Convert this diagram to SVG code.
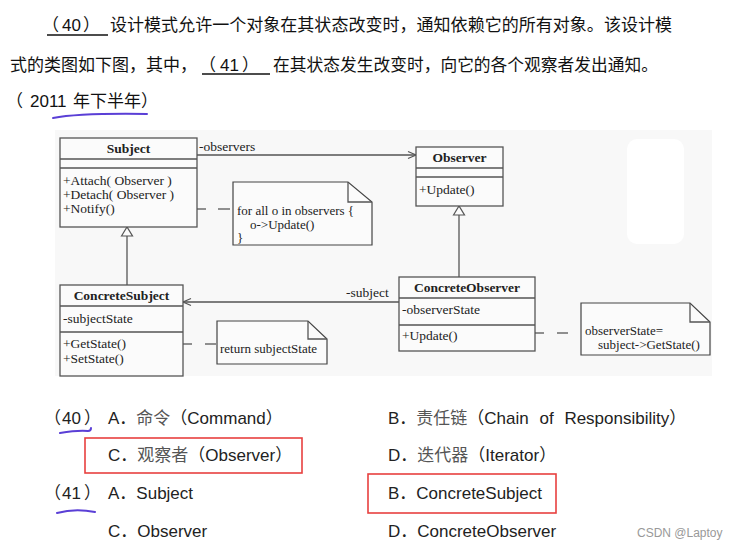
<svg xmlns="http://www.w3.org/2000/svg" width="730" height="549" viewBox="0 0 730 549">
<style>
.q{font-family:"Noto Sans CJK SC","Liberation Sans",sans-serif;font-size:17px;fill:#111}
.qa{font-family:"Liberation Sans","Noto Sans CJK SC",sans-serif;font-size:17px;fill:#111}
.t{font-family:"Liberation Serif",serif;font-size:13.5px;fill:#222}
.n{font-size:13px}
.b{font-weight:bold;text-anchor:middle}
.box{fill:#fbfbfb;stroke:#555;stroke-width:1.3}
.ln{stroke:#555;stroke-width:1.3;fill:none}
.note{fill:#fbfbfb;stroke:#444;stroke-width:1.2}
.ans{font-family:"Liberation Sans","Noto Sans CJK SC",sans-serif;font-size:17px;fill:#222}
.cn{fill:#555}
.red{fill:none;stroke:#e8403f;stroke-width:1.6}
.pur{fill:none;stroke:#5a3fd6;stroke-width:2;stroke-linecap:round}
</style>
<defs>
<marker id="open" markerWidth="10" markerHeight="10" refX="9" refY="5" orient="auto" markerUnits="userSpaceOnUse">
<path d="M1,1.5 L9,5 L1,8.5" fill="none" stroke="#555" stroke-width="1.2"/>
</marker>
<marker id="tri" markerWidth="14" markerHeight="14" refX="12" refY="7" orient="auto" markerUnits="userSpaceOnUse">
<path d="M3,1.5 L12,7 L3,12.5 Z" fill="#fbfbfb" stroke="#555" stroke-width="1.2"/>
</marker>
</defs>
<rect width="730" height="549" fill="#ffffff"/>

<g id="question">
<line x1="47" y1="35" x2="108" y2="35" stroke="#111" stroke-width="1.3"/>
<text class="q" y="31"><tspan x="42">（</tspan><tspan class="qa" x="62">40</tspan><tspan x="83">）</tspan></text>
<text class="q" x="110" y="31" textLength="562" lengthAdjust="spacingAndGlyphs">设计模式允许一个对象在其状态改变时，通知依赖它的所有对象。该设计模</text>
<text class="q" x="10" y="71" textLength="187" lengthAdjust="spacingAndGlyphs">式的类图如下图，其中，</text>
<line x1="202" y1="74" x2="270" y2="74" stroke="#111" stroke-width="1.3"/>
<text class="q" y="71"><tspan x="199">（</tspan><tspan class="qa" x="220">41</tspan><tspan x="242">）</tspan></text>
<text class="q" x="273" y="71" textLength="385" lengthAdjust="spacingAndGlyphs">在其状态发生改变时，向它的各个观察者发出通知。</text>
<text class="q" y="107"><tspan x="6">（</tspan><tspan class="qa" x="30">2011 </tspan><tspan x="73">年下半年）</tspan></text>
<path class="pur" d="M53,118 Q80,113 147,114"/>
</g>

<rect x="55" y="130" width="657" height="246" fill="#f8f8f8"/>
<rect x="627" y="139" width="57" height="105" rx="10" fill="#ffffff"/>

<g id="connectors">
<line class="ln" x1="197" y1="155" x2="416" y2="155" marker-end="url(#open)"/>
<text class="t" x="199" y="151">-observers</text>
<line class="ln" x1="127" y1="285" x2="127" y2="227" marker-end="url(#tri)"/>
<line class="ln" x1="459" y1="277" x2="459" y2="206" marker-end="url(#tri)"/>
<line class="ln" x1="399" y1="302" x2="183" y2="302" marker-end="url(#open)"/>
<text class="t" x="346" y="297">-subject</text>
<g class="ln">
<circle cx="192" cy="209" r="2.5"/>
<line x1="194.5" y1="209" x2="206" y2="209"/>
<line x1="218" y1="209" x2="230" y2="209"/>
<circle cx="179" cy="344" r="2.5"/>
<line x1="181.5" y1="344" x2="192" y2="344"/>
<line x1="205" y1="344" x2="216" y2="344"/>
<circle cx="532" cy="333" r="2.5"/>
<line x1="534.5" y1="333" x2="544" y2="333"/>
<line x1="557" y1="333" x2="568" y2="333"/>
</g>
</g>

<g id="Subject">
<rect class="box" x="60" y="138" width="137" height="89"/>
<line class="ln" x1="60" y1="159" x2="197" y2="159"/>
<line class="ln" x1="60" y1="168" x2="197" y2="168"/>
<text class="t b" x="128.5" y="153">Subject</text>
<text class="t" x="63" y="185">+Attach( Observer )</text>
<text class="t" x="63" y="199">+Detach( Observer )</text>
<text class="t" x="63" y="213">+Notify()</text>
</g>

<g id="Observer">
<rect class="box" x="416" y="147" width="87" height="59"/>
<line class="ln" x1="416" y1="168" x2="503" y2="168"/>
<line class="ln" x1="416" y1="177" x2="503" y2="177"/>
<text class="t b" x="459.5" y="162">Observer</text>
<text class="t" x="419" y="194">+Update()</text>
</g>

<g id="ConcreteSubject">
<rect class="box" x="60" y="285" width="123" height="91"/>
<line class="ln" x1="60" y1="306" x2="183" y2="306"/>
<line class="ln" x1="60" y1="332" x2="183" y2="332"/>
<text class="t b" x="121.5" y="300">ConcreteSubject</text>
<text class="t" x="63" y="323">-subjectState</text>
<text class="t" x="63" y="348">+GetState()</text>
<text class="t" x="63" y="363">+SetState()</text>
</g>

<g id="ConcreteObserver">
<rect class="box" x="399" y="277" width="136" height="74"/>
<line class="ln" x1="399" y1="298" x2="535" y2="298"/>
<line class="ln" x1="399" y1="325" x2="535" y2="325"/>
<text class="t b" x="467" y="292">ConcreteObserver</text>
<text class="t" x="402" y="314">-observerState</text>
<text class="t" x="402" y="340">+Update()</text>
</g>

<g id="note1">
<path class="note" d="M233,182 H348 L372,202 V245 H233 Z"/>
<path class="ln" d="M348,182 V202 H372"/>
<text class="t n" x="237" y="215">for all o in observers {</text>
<text class="t n" x="250" y="228.5">o-&gt;Update()</text>
<text class="t n" x="237" y="241.5">}</text>
</g>

<g id="note2">
<path class="note" d="M217,321 H308 L327,339 V364 H217 Z"/>
<path class="ln" d="M308,321 V339 H327"/>
<text class="t n" x="220" y="353">return subjectState</text>
</g>

<g id="note3">
<path class="note" d="M581,303 H690 L710,322 V355 H581 Z"/>
<path class="ln" d="M690,303 V322 H710"/>
<text class="t n" x="585" y="335">observerState=</text>
<text class="t n" x="598" y="349">subject-&gt;GetState()</text>
</g>

<g id="answers">
<text class="ans" y="424"><tspan x="44">（</tspan><tspan x="62">40</tspan><tspan x="84">）</tspan></text>
<path class="pur" d="M60,433 Q78,430 88,431 Q91,431 91,428"/>
<text class="ans" x="108" y="424">A．<tspan class="cn">命令</tspan>（Command）</text>
<text class="ans" x="388" y="424" word-spacing="6">B．<tspan class="cn">责任链</tspan>（Chain of Responsibility）</text>
<rect class="red" x="85" y="438" width="217" height="35"/>
<text class="ans" x="108" y="461">C．<tspan class="cn">观察者</tspan>（Observer）</text>
<text class="ans" x="388" y="461">D．<tspan class="cn">迭代器</tspan>（Iterator）</text>
<text class="ans" y="499"><tspan x="44">（</tspan><tspan x="62">41</tspan><tspan x="84">）</tspan></text>
<path class="pur" d="M57,513 Q75,508 95,512"/>
<text class="ans" x="108" y="499">A．Subject</text>
<rect class="red" x="368" y="474" width="188" height="39"/>
<text class="ans" x="388" y="499">B．ConcreteSubject</text>
<text class="ans" x="108" y="537">C．Observer</text>
<text class="ans" x="388" y="537">D．ConcreteObserver</text>
<text x="637" y="537" font-family="Liberation Sans, sans-serif" font-size="12" fill="#999">CSDN @Laptoy</text>
</g>
</svg>
